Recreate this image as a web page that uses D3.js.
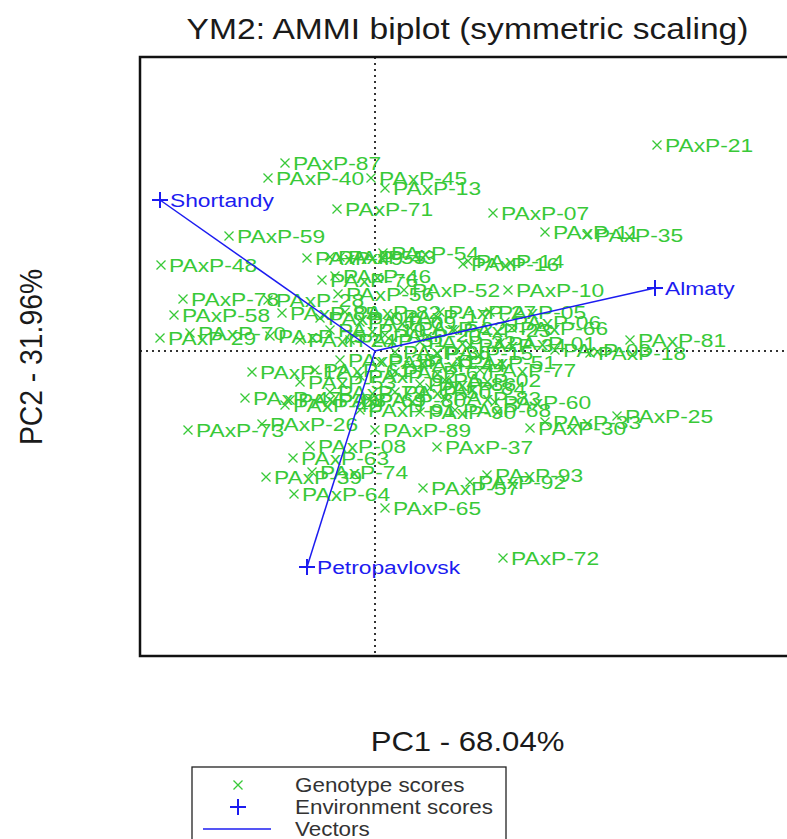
<!DOCTYPE html>
<html>
<head>
<meta charset="utf-8">
<script src="https://cdn.jsdelivr.net/npm/d3@7"></script>
<style>
  html, body { margin: 0; padding: 0; background: #fff; }
  svg { display: block; font-family: "Liberation Sans", Arial, sans-serif; }
</style>
</head>
<body>
<svg id="chart" width="787" height="839"></svg>
<script>
// AMMI biplot of genotype and environment scores (PC1 vs PC2)
const titleText = "YM2: AMMI biplot (symmetric scaling)";
const xLabel = "PC1 - 68.04%";
const yLabel = "PC2 - 31.96%";

const genotypeNames = [
  "PAxP-21","PAxP-87","PAxP-40","PAxP-45","PAxP-13","PAxP-71","PAxP-07","PAxP-11","PAxP-35","PAxP-59",
  "PAxP-48","PAxP-54","PAxP-49","PAxP-43","PAxP-55","PAxP-16","PAxP-14","PAxP-76","PAxP-46","PAxP-56",
  "PAxP-52","PAxP-10","PAxP-78","PAxP-28","PAxP-58","PAxP-85","PAxP-29","PAxP-70","PAxP-75","PAxP-05",
  "PAxP-27","PAxP-82","PAxP-66","PAxP-06","PAxP-01","PAxP-81","PAxP-18","PAxP-15","PAxP-03","PAxP-02",
  "PAxP-84","PAxP-86","PAxP-60","PAxP-68","PAxP-50","PAxP-25","PAxP-33","PAxP-30","PAxP-89","PAxP-37",
  "PAxP-73","PAxP-26","PAxP-08","PAxP-63","PAxP-39","PAxP-74","PAxP-64","PAxP-57","PAxP-92","PAxP-93",
  "PAxP-65","PAxP-72","PAxP-12","PAxP-53","PAxP-47","PAxP-42","PAxP-69","PAxP-90","PAxP-04","PAxP-09",
  "PAxP-17","PAxP-19","PAxP-20","PAxP-22","PAxP-23","PAxP-24","PAxP-31","PAxP-32","PAxP-34","PAxP-36",
  "PAxP-38","PAxP-41","PAxP-44","PAxP-51","PAxP-61","PAxP-62","PAxP-67","PAxP-77","PAxP-79","PAxP-80",
  "PAxP-83","PAxP-88","PAxP-91"
];
const genotypePC1 = [
   2.82,-0.90,-1.07,-0.04, 0.10,-0.38, 1.18, 1.70, 2.12,-1.46,
  -2.14, 0.08,-0.68,-0.35,-0.45, 0.88, 0.93,-0.53,-0.40,-0.37,
   0.29, 1.33,-1.92,-1.07,-2.01,-0.93,-2.15,-1.85,-1.05, 1.15,
   0.65,-0.30, 1.37, 1.30, 1.25, 2.55, 2.15, 0.62, 1.80, 0.70,
   0.55, 0.45, 1.20, 0.80, 0.20, 2.42, 1.70, 1.55, 0.00, 0.62,
  -1.87,-1.13,-0.65,-0.82,-1.09,-0.63,-0.81, 0.48, 0.95, 1.12,
   0.10, 1.28,-1.23,-0.75,-1.30,-0.90,-0.45, 0.45,-0.55,-0.15,
   0.20,-0.45, 0.10, 0.35, 0.80,-0.75,-0.25, 0.45, 0.95, 0.20,
  -0.35, 0.05, 0.35, 0.85,-0.60,-0.15, 0.20, 1.05,-0.45,-0.05,
   0.70,-0.85,-0.15
];
const genotypePC2 = [
   2.06, 1.88, 1.73, 1.73, 1.63, 1.42, 1.38, 1.19, 1.16, 1.15,
   0.86, 0.98, 0.93, 0.94, 0.94, 0.87, 0.90, 0.71, 0.75, 0.57,
   0.61, 0.61, 0.52, 0.51, 0.36, 0.38, 0.13, 0.18, 0.15, 0.39,
   0.39, 0.39, 0.23, 0.29, 0.08, 0.11,-0.02,-0.02, 0.01,-0.29,
  -0.37,-0.33,-0.51,-0.59,-0.41,-0.65,-0.71,-0.77,-0.79,-0.96,
  -0.79,-0.73,-0.95,-1.07,-1.26,-1.21,-1.43,-1.37,-1.31,-1.24,
  -1.57,-2.07,-0.21,-0.31,-0.47,-0.54,-0.49,-0.61, 0.33, 0.29,
   0.35, 0.21, 0.16, 0.23, 0.21, 0.11, 0.11, 0.09, 0.06,-0.01,
  -0.09,-0.11,-0.14,-0.11,-0.19,-0.25,-0.21,-0.19,-0.41,-0.49,
  -0.47,-0.49,-0.59
];

const envNames = ["Shortandy", "Almaty", "Petropavlovsk"];
const envPC1 = [-2.15, 2.80, -0.68];
const envPC2 = [ 1.51, 0.63, -2.16];

const legendLabels = ["Genotype scores", "Environment scores", "Vectors"];

const genotypes = genotypeNames.map((n, i) => ({ name: n, x: genotypePC1[i], y: genotypePC2[i] }));
const envs = envNames.map((n, i) => ({ name: n, x: envPC1[i], y: envPC2[i] }));

const GREEN = "#38c938";
const BLUE = "#1c1cf0";
const INK = "#1a1a1a";

const svg = d3.select("#chart");

const plot = { left: 140, right: 795, top: 57, bottom: 656 };
const x = d3.scaleLinear().domain([-2.35, 4.20]).range([plot.left, plot.right]);
const y = d3.scaleLinear().domain([-3.05, 2.94]).range([plot.bottom, plot.top]);

// text with glyphs widened horizontally by sx
function stretchedText(sel, px, py, str, size, fill, sx) {
  return sel.append("text")
    .attr("transform", `translate(${px},${py}) scale(${sx},1)`)
    .attr("font-size", size)
    .attr("fill", fill)
    .text(str);
}

// title
stretchedText(svg, (plot.left + plot.right) / 2, 39, titleText, 30, INK, 1.12).attr("text-anchor", "middle");

// reference lines through the origin
svg.append("line")
  .attr("x1", plot.left).attr("x2", plot.right)
  .attr("y1", y(0)).attr("y2", y(0))
  .attr("stroke", "#333").attr("stroke-width", 2).attr("stroke-dasharray", "2,4");
svg.append("line")
  .attr("x1", x(0)).attr("x2", x(0))
  .attr("y1", plot.top).attr("y2", plot.bottom)
  .attr("stroke", "#333").attr("stroke-width", 2).attr("stroke-dasharray", "2,4");

// genotype markers and labels
const gm = svg.append("g").selectAll("g.geno").data(genotypes).join("g")
  .attr("class", "geno")
  .attr("transform", d => `translate(${x(d.x)},${y(d.y)})`);
gm.append("path")
  .attr("d", "M-4.5,-4.5L4.5,4.5M-4.5,4.5L4.5,-4.5")
  .attr("stroke", GREEN).attr("stroke-width", 1.3).attr("fill", "none");
gm.append("text")
  .attr("transform", `translate(8,6.8) scale(1.2,1)`)
  .attr("font-size", 19)
  .attr("fill", GREEN)
  .text(d => d.name);

// environment vectors
svg.append("g").selectAll("line").data(envs).join("line")
  .attr("x1", x(0)).attr("y1", y(0))
  .attr("x2", d => x(d.x)).attr("y2", d => y(d.y))
  .attr("stroke", BLUE).attr("stroke-width", 1.5);

const em = svg.append("g").selectAll("g").data(envs).join("g")
  .attr("transform", d => `translate(${x(d.x)},${y(d.y)})`);
em.append("path")
  .attr("d", "M-8,0L8,0M0,-8L0,8")
  .attr("stroke", BLUE).attr("stroke-width", 2).attr("fill", "none");
em.append("text")
  .attr("transform", `translate(10,6.8) scale(1.2,1)`)
  .attr("font-size", 19)
  .attr("fill", BLUE)
  .text(d => d.name);

// plot frame
svg.append("rect")
  .attr("x", plot.left).attr("y", plot.top)
  .attr("width", plot.right - plot.left).attr("height", plot.bottom - plot.top)
  .attr("fill", "none").attr("stroke", "#111").attr("stroke-width", 2.5);

// axis titles
stretchedText(svg, (plot.left + plot.right) / 2, 751, xLabel, 28.3, INK, 1.1).attr("text-anchor", "middle");
svg.append("text")
  .attr("transform", `translate(42,357) scale(1.1,1) rotate(-90)`)
  .attr("font-size", 28.3)
  .attr("fill", INK)
  .attr("text-anchor", "middle")
  .text(yLabel);

// legend
const lg = svg.append("g");
lg.append("rect")
  .attr("x", 192).attr("y", 767).attr("width", 314).attr("height", 100)
  .attr("fill", "#fff").attr("stroke", "#222").attr("stroke-width", 1.3);
const rows = [785, 807, 829];
lg.append("path")
  .attr("transform", `translate(238,${rows[0]})`)
  .attr("d", "M-4.5,-4.5L4.5,4.5M-4.5,4.5L4.5,-4.5")
  .attr("stroke", GREEN).attr("stroke-width", 1.3);
lg.append("path")
  .attr("transform", `translate(238,${rows[1]})`)
  .attr("d", "M-8,0L8,0M0,-8L0,8")
  .attr("stroke", BLUE).attr("stroke-width", 2);
lg.append("line")
  .attr("x1", 203).attr("x2", 271).attr("y1", rows[2]).attr("y2", rows[2])
  .attr("stroke", BLUE).attr("stroke-width", 1.5);
legendLabels.forEach((t, i) => {
  stretchedText(lg, 295, rows[i] + 7, t, 19.5, "#333", 1.15);
});
</script>
</body>
</html>
